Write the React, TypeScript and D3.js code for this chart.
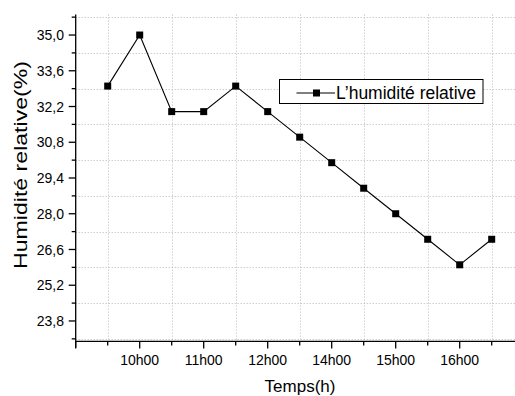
import React from "react";
import * as d3 from "d3";

const W = 515;
const H = 396;

// Data: half-hourly readings (index 1 = 9h30 ... 13 = 16h30)
const timeIndex = [1, 2, 3, 4, 5, 6, 7, 8, 9, 10, 11, 12, 13];
const humidity = [33.0, 35.0, 32.0, 32.0, 33.0, 32.0, 31.0, 30.0, 29.0, 28.0, 27.0, 26.0, 27.0];

const xMajorTicks = [0, 2, 4, 6, 8, 10, 12, 14];
const xMajorLabels = ["", "10h00", "11h00", "12h00", "14h00", "15h00", "16h00", ""];
const xMinorTicks = [1, 3, 5, 7, 9, 11, 13];

const yMajorTicks = [23.8, 25.2, 26.6, 28.0, 29.4, 30.8, 32.2, 33.6, 35.0];
const yMinorTicks = [23.1, 24.5, 25.9, 27.3, 28.7, 30.1, 31.5, 32.9, 34.3, 35.7];

const seriesName = "L\u2019humidit\u00e9 relative";
const xTitle = "Temps(h)";
const yTitle = "Humidit\u00e9 relative(%)";

const FONT = "'Liberation Sans', Arial, sans-serif";

export default function App() {
  const x = d3.scaleLinear().domain([0, 14.5]).range([75.7, 75.7 + 14.5 * 32]);
  const y = d3.scaleLinear().domain([23.0, 35.8]).range([341.4, 14.6]);

  const line = d3
    .line<number>()
    .x((_, i) => x(timeIndex[i]))
    .y((d) => y(d));

  const fmt = (v: number) => v.toFixed(1).replace(".", ",");
  const gridColor = "#b8b8b8";
  const x0 = x(0);
  const yBottom = y(23.0);
  const yTop = y(35.8);
  const xEnd = x(14.5);

  const ms = 7;

  return (
    <svg
      width={W}
      height={H}
      style={{ position: "absolute", left: 0, top: 0, background: "#fff" }}
      fontFamily={FONT}
    >
      <rect x={0} y={0} width={W} height={H} fill="#fff" />
      {/* grid */}
      <g stroke={gridColor} strokeWidth={1} strokeDasharray="1,2">
        {yMinorTicks.map((t) => (
          <line key={"hg" + t} x1={x0} x2={xEnd} y1={Math.round(y(t)) + 0.5} y2={Math.round(y(t)) + 0.5} />
        ))}
        {xMinorTicks.map((t) => (
          <line key={"vg" + t} x1={Math.round(x(t)) + 0.5} x2={Math.round(x(t)) + 0.5} y1={yTop} y2={yBottom} />
        ))}
      </g>

      {/* axes */}
      <g stroke="#000" strokeWidth={1.3}>
        <line x1={x0} x2={x0} y1={yTop} y2={yBottom + 6} />
        <line x1={x0} x2={xEnd} y1={yBottom} y2={yBottom} />
        {yMajorTicks.map((t) => (
          <line key={"ymt" + t} x1={x0 - 7} x2={x0} y1={y(t)} y2={y(t)} />
        ))}
        {yMinorTicks.map((t) => (
          <line key={"ymn" + t} x1={x0 - 4} x2={x0} y1={y(t)} y2={y(t)} />
        ))}
        {xMajorTicks.map((t) => (
          <line key={"xmt" + t} x1={x(t)} x2={x(t)} y1={yBottom} y2={yBottom + 7} />
        ))}
        {xMinorTicks.map((t) => (
          <line key={"xmn" + t} x1={x(t)} x2={x(t)} y1={yBottom} y2={yBottom + 4} />
        ))}
      </g>

      {/* tick labels */}
      <g fontSize={14} fill="#000">
        {yMajorTicks.map((t) => (
          <text key={"yl" + t} x={64} y={y(t)} dy="0.36em" textAnchor="end">
            {fmt(t)}
          </text>
        ))}
        {xMajorTicks.map((t, i) => (
          <text key={"xl" + t} x={x(t)} y={365} textAnchor="middle">
            {xMajorLabels[i]}
          </text>
        ))}
      </g>

      {/* titles */}
      <text x={300} y={391.5} fontSize={17} textAnchor="middle" fill="#000">
        {xTitle}
      </text>
      <text
        transform="translate(26.5,165) rotate(-90)"
        fontSize={17.5}
        textAnchor="middle"
        fill="#000"
        textLength={208}
        lengthAdjust="spacingAndGlyphs"
      >
        {yTitle}
      </text>

      {/* series */}
      <path d={line(humidity) || ""} fill="none" stroke="#000" strokeWidth={1.1} />
      {humidity.map((v, i) => (
        <rect
          key={"m" + i}
          x={x(timeIndex[i]) - ms / 2}
          y={y(v) - ms / 2}
          width={ms}
          height={ms}
          fill="#000"
        />
      ))}

      {/* legend */}
      <g>
        <rect x={279.5} y={79.5} width={203.5} height={24} fill="#fff" stroke="#000" strokeWidth={1} />
        <line x1={296.5} x2={335} y1={93} y2={93} stroke="#000" strokeWidth={1.1} />
        <rect x={316.5 - 3.5} y={93 - 3.5} width={7} height={7} fill="#000" />
        <text x={336} y={98.5} fontSize={17.5} fill="#000">
          {seriesName}
        </text>
      </g>
    </svg>
  );
}
